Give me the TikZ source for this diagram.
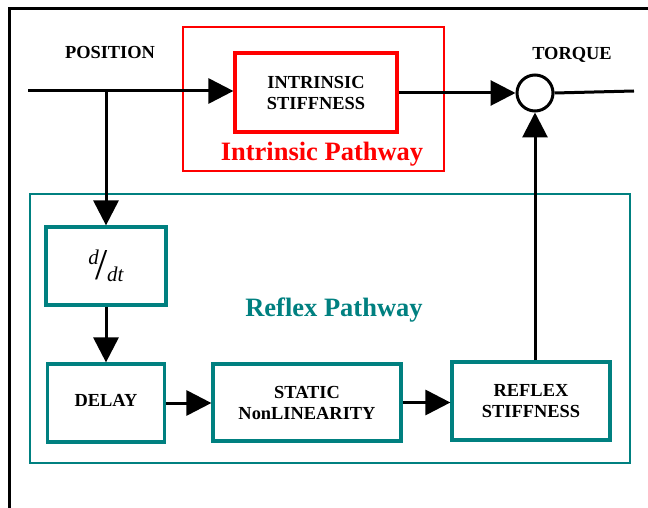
\documentclass[tikz,border=0pt]{standalone}
\usepackage{fontspec}
\setmainfont{Liberation Serif}
\usetikzlibrary{arrows.meta}
\definecolor{teal}{RGB}{0,128,128}
\definecolor{pred}{RGB}{255,0,0}
\begin{document}
\begin{tikzpicture}[x=1pt,y=-1pt,
  lbl/.style={font=\bfseries\fontsize{18.4}{21}\selectfont, align=center, inner sep=0pt},
  tbox/.style={draw=teal, line width=3.2pt, inner sep=0pt, lbl},
  rbox/.style={draw=pred, line width=3.2pt, inner sep=0pt, lbl},
  conn/.style={line width=3pt, -{Triangle[length=25pt,width=25pt]}},
  plain/.style={line width=3pt},
  big/.style={font=\bfseries\fontsize{26.5}{30}\selectfont, inner sep=0pt}
]
\useasboundingbox (0,0) rectangle (648,508);
% frame
\draw[line width=3pt] (9,510) -- (9,9) -- (650,9);
% outer pathway boxes
\draw[pred, line width=2pt] (183,27) rectangle (444,171);
\draw[teal, line width=2pt] (30,194) rectangle (630,463);
% boxes
\node[rbox, minimum width=162pt, minimum height=79pt] (is) at (316,92.5) {INTRINSIC\\STIFFNESS};
\node[tbox, minimum width=120pt, minimum height=78pt] (dd) at (106,266) {\raisebox{-12pt}{\mdseries\itshape\raisebox{15pt}{\fontsize{21}{21}\selectfont d}\kern-3.5pt{\fontsize{44}{44}\selectfont\upshape /}\kern-0.5pt\raisebox{-2pt}{\fontsize{21}{21}\selectfont dt}}};
\node[tbox, minimum width=117pt, minimum height=78pt] (delay) at (106,403) {\raisebox{6pt}{DELAY}};
\node[tbox, minimum width=188pt, minimum height=77pt] (static) at (307,402.5) {STATIC\\NonLINEARITY};
\node[tbox, minimum width=158pt, minimum height=78pt] (reflex) at (531,401) {REFLEX\\STIFFNESS};
\node[circle, draw, line width=3pt, minimum size=36pt, inner sep=0pt] (sum) at (535,93) {};
% labels
\node[lbl] (pos) at (110,52) {POSITION};
\node[lbl] (tor) at (572,55) {TORQUE};
\node[big, text=pred] (ip) at (322,154) {Intrinsic Pathway};
\node[big, text=teal] (rp) at (334,310) {Reflex Pathway};
% connectors
\coordinate (in) at (28,91);
\coordinate (br) at (106,91);
\coordinate (out) at (634,91);
\draw[conn] (in) -- (in -| is.west);
\draw[conn] (br) -- (dd.north);
\draw[conn] (dd.south) -- (delay.north);
\draw[conn] (delay.east) -- (static.west |- delay.east);
\draw[conn] (static.east) -- (reflex.west |- static.east);
\draw[conn] (is.east |- sum.west) -- (sum.west);
\draw[conn] (sum.south |- reflex.north) -- (sum.south);
\draw[plain] (sum.east) -- (out);
\end{tikzpicture}
\end{document}
